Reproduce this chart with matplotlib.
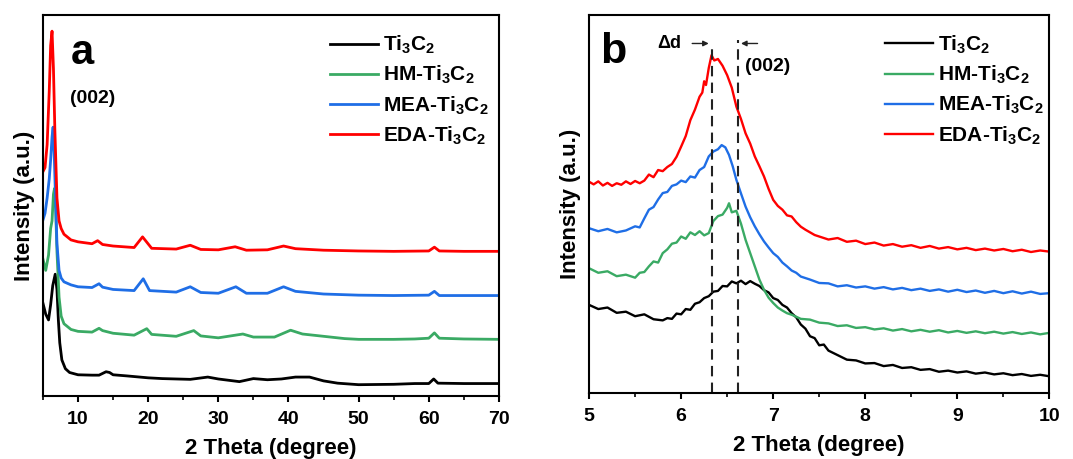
import matplotlib.pyplot as plt
from matplotlib.ticker import MultipleLocator

# ---- panel a: wide scan, 5-70 deg (intensity as fraction of axis height)
a_black_x = [5, 5.4, 5.8, 6.1, 6.4, 6.75, 7.0, 7.2, 7.4, 7.7, 8.2, 8.8, 10, 12, 13, 14, 14.5, 15, 17,
             20, 22, 26, 28.5, 30, 33, 35, 37, 39, 41, 43, 45, 47, 50, 55, 58, 60, 60.7, 61.3, 65, 70]
a_black_y = [0.244, 0.215, 0.20, 0.24, 0.29, 0.32, 0.28, 0.20, 0.14, 0.095, 0.072, 0.062, 0.056,
             0.055, 0.055, 0.064, 0.062, 0.056, 0.053, 0.048, 0.046, 0.044, 0.05, 0.045, 0.038, 0.046,
             0.043, 0.045, 0.05, 0.05, 0.04, 0.034, 0.03, 0.031, 0.033, 0.033, 0.045, 0.034, 0.033, 0.033]

a_green_x = [5, 5.4, 5.8, 6.1, 6.3, 6.5, 6.65, 6.8, 7.0, 7.3, 7.6, 8, 9, 10, 12, 13, 13.5, 15, 18,
             19.8, 20.5, 24, 26.5, 27.5, 30, 33.5, 35, 38, 40.3, 42, 45, 48, 50, 55, 58, 60, 60.8, 61.5, 65, 70]
a_green_y = [0.36, 0.33, 0.37, 0.44, 0.46, 0.53, 0.545, 0.50, 0.38, 0.26, 0.21, 0.19, 0.175, 0.17,
             0.168, 0.178, 0.172, 0.165, 0.16, 0.177, 0.162, 0.157, 0.172, 0.158, 0.153, 0.163, 0.155,
             0.155, 0.173, 0.163, 0.157, 0.151, 0.149, 0.149, 0.15, 0.152, 0.166, 0.152, 0.15, 0.149]

a_blue_x = [5, 5.3, 5.6, 5.9, 6.1, 6.3, 6.45, 6.6, 6.8, 7.0, 7.3, 7.6, 8, 9, 10, 12, 13, 13.5, 15, 18,
            19.3, 20.2, 24, 26, 27.5, 30, 32.5, 34, 37, 39.3, 41, 45, 50, 55, 60, 60.8, 61.5, 65, 70]
a_blue_y = [0.462, 0.48, 0.52, 0.57, 0.62, 0.68, 0.706, 0.64, 0.52, 0.40, 0.33, 0.31, 0.30, 0.292,
            0.287, 0.285, 0.295, 0.286, 0.28, 0.277, 0.308, 0.277, 0.273, 0.287, 0.272, 0.27, 0.287,
            0.27, 0.27, 0.287, 0.275, 0.268, 0.265, 0.264, 0.265, 0.275, 0.264, 0.264, 0.264]

a_red_x = [5, 5.3, 5.6, 5.9, 6.1, 6.3, 6.5, 6.7, 7.0, 7.3, 7.6, 8, 9, 10, 12, 12.8, 13.5, 15, 18,
           19.2, 20.5, 24, 26, 27.5, 30, 32.4, 34, 37, 39.3, 41, 45, 50, 55, 60, 60.8, 61.5, 65, 70]
a_red_y = [0.589, 0.60, 0.66, 0.80, 0.92, 0.958, 0.86, 0.70, 0.52, 0.46, 0.44, 0.425, 0.41, 0.405,
           0.40, 0.408, 0.398, 0.394, 0.39, 0.418, 0.388, 0.386, 0.396, 0.385, 0.384, 0.392, 0.383,
           0.384, 0.394, 0.387, 0.383, 0.381, 0.38, 0.381, 0.391, 0.381, 0.38, 0.38]

# ---- panel b: zoom on the (002) peak, 5-10 deg
b_black_x = [5.0, 5.1, 5.2, 5.3, 5.4, 5.5, 5.6, 5.7, 5.8, 5.85, 5.9, 5.95, 6.0, 6.05, 6.1, 6.15, 6.2,
             6.25, 6.3, 6.35, 6.4, 6.45, 6.5, 6.55, 6.6, 6.65, 6.7, 6.75, 6.8, 6.85, 6.9, 6.95, 7.0,
             7.05, 7.1, 7.15, 7.2, 7.25, 7.3, 7.35, 7.4, 7.45, 7.5, 7.55, 7.6, 7.7, 7.8, 7.9, 8.0,
             8.1, 8.2, 8.3, 8.4, 8.5, 8.6, 8.7, 8.8, 8.9, 9.0, 9.1, 9.2, 9.3, 9.4, 9.5, 9.6, 9.7,
             9.8, 9.9, 10.0]
b_black_y = [0.233, 0.222, 0.226, 0.212, 0.215, 0.203, 0.208, 0.195, 0.192, 0.198, 0.196, 0.210,
             0.208, 0.222, 0.220, 0.236, 0.240, 0.251, 0.256, 0.268, 0.270, 0.283, 0.282, 0.295,
             0.290, 0.297, 0.288, 0.296, 0.289, 0.283, 0.272, 0.266, 0.251, 0.246, 0.233, 0.226,
             0.211, 0.200, 0.181, 0.170, 0.150, 0.145, 0.126, 0.128, 0.112, 0.100, 0.088, 0.086,
             0.078, 0.079, 0.071, 0.074, 0.066, 0.068, 0.061, 0.063, 0.056, 0.059, 0.054, 0.057,
             0.051, 0.054, 0.049, 0.052, 0.047, 0.050, 0.045, 0.048, 0.044]

b_green_x = [5.0, 5.1, 5.2, 5.3, 5.4, 5.5, 5.55, 5.6, 5.65, 5.7, 5.75, 5.8, 5.85, 5.9, 5.95, 6.0,
             6.05, 6.1, 6.15, 6.2, 6.25, 6.3, 6.35, 6.4, 6.45, 6.5, 6.52, 6.55, 6.6, 6.65, 6.7, 6.75,
             6.8, 6.85, 6.9, 6.95, 7.0, 7.05, 7.1, 7.15, 7.2, 7.3, 7.4, 7.5, 7.6, 7.7, 7.8, 7.9,
             8.0, 8.1, 8.2, 8.3, 8.4, 8.5, 8.6, 8.7, 8.8, 8.9, 9.0, 9.1, 9.2, 9.3, 9.4, 9.5, 9.6,
             9.7, 9.8, 9.9, 10.0]
b_green_y = [0.330, 0.318, 0.322, 0.309, 0.313, 0.305, 0.318, 0.320, 0.335, 0.348, 0.345, 0.370,
             0.380, 0.395, 0.398, 0.414, 0.408, 0.425, 0.418, 0.428, 0.417, 0.423, 0.455, 0.468,
             0.472, 0.490, 0.502, 0.478, 0.482, 0.448, 0.405, 0.370, 0.335, 0.300, 0.273, 0.252,
             0.238, 0.226, 0.218, 0.211, 0.207, 0.196, 0.194, 0.186, 0.184, 0.177, 0.179, 0.172,
             0.174, 0.168, 0.171, 0.165, 0.169, 0.163, 0.167, 0.162, 0.166, 0.160, 0.164, 0.159,
             0.163, 0.158, 0.162, 0.157, 0.161, 0.156, 0.160, 0.155, 0.159]

b_blue_x = [5.0, 5.1, 5.2, 5.3, 5.4, 5.5, 5.55, 5.6, 5.65, 5.7, 5.75, 5.8, 5.85, 5.9, 5.95, 6.0,
            6.05, 6.1, 6.15, 6.2, 6.25, 6.3, 6.35, 6.4, 6.44, 6.48, 6.52, 6.56, 6.6, 6.65, 6.7,
            6.75, 6.8, 6.85, 6.9, 6.95, 7.0, 7.05, 7.1, 7.15, 7.2, 7.25, 7.3, 7.4, 7.5, 7.6, 7.7,
            7.8, 7.9, 8.0, 8.1, 8.2, 8.3, 8.4, 8.5, 8.6, 8.7, 8.8, 8.9, 9.0, 9.1, 9.2, 9.3, 9.4,
            9.5, 9.6, 9.7, 9.8, 9.9, 10.0]
b_blue_y = [0.436, 0.428, 0.434, 0.425, 0.430, 0.441, 0.438, 0.462, 0.485, 0.492, 0.512, 0.529,
            0.532, 0.548, 0.552, 0.562, 0.558, 0.573, 0.570, 0.590, 0.598, 0.626, 0.639, 0.645,
            0.656, 0.650, 0.630, 0.600, 0.564, 0.528, 0.493, 0.465, 0.441, 0.420, 0.401, 0.385,
            0.370, 0.360, 0.345, 0.335, 0.324, 0.318, 0.308, 0.300, 0.291, 0.290, 0.282, 0.285,
            0.279, 0.282, 0.276, 0.280, 0.274, 0.278, 0.272, 0.276, 0.270, 0.274, 0.268, 0.273,
            0.267, 0.271, 0.265, 0.270, 0.264, 0.269, 0.263, 0.268, 0.262, 0.264]

b_red_x = [5.0, 5.05, 5.1, 5.15, 5.2, 5.25, 5.3, 5.35, 5.4, 5.45, 5.5, 5.55, 5.6, 5.65, 5.7, 5.75,
           5.8, 5.85, 5.9, 5.95, 6.0, 6.05, 6.1, 6.15, 6.2, 6.23, 6.25, 6.27, 6.3, 6.33, 6.36, 6.4,
           6.45, 6.5, 6.55, 6.6, 6.65, 6.7, 6.75, 6.8, 6.85, 6.9, 6.95, 7.0, 7.05, 7.1, 7.15, 7.2,
           7.25, 7.3, 7.35, 7.4, 7.45, 7.5, 7.6, 7.7, 7.8, 7.9, 8.0, 8.1, 8.2, 8.3, 8.4, 8.5, 8.6,
           8.7, 8.8, 8.9, 9.0, 9.1, 9.2, 9.3, 9.4, 9.5, 9.6, 9.7, 9.8, 9.9, 10.0]
b_red_y = [0.559, 0.552, 0.560, 0.549, 0.556, 0.548, 0.555, 0.551, 0.560, 0.553, 0.561, 0.555,
           0.562, 0.578, 0.571, 0.590, 0.587, 0.598, 0.606, 0.625, 0.652, 0.680, 0.722, 0.750,
           0.784, 0.795, 0.825, 0.815, 0.860, 0.894, 0.880, 0.884, 0.866, 0.841, 0.808, 0.758,
           0.725, 0.687, 0.660, 0.626, 0.600, 0.573, 0.540, 0.511, 0.495, 0.485, 0.470, 0.467,
           0.452, 0.440, 0.432, 0.425, 0.418, 0.414, 0.406, 0.410, 0.400, 0.403, 0.394, 0.398,
           0.390, 0.394, 0.387, 0.391, 0.384, 0.389, 0.382, 0.386, 0.380, 0.384, 0.378, 0.382,
           0.377, 0.381, 0.375, 0.379, 0.373, 0.377, 0.374]

labels = ['Ti$_3$C$_2$', 'HM-Ti$_3$C$_2$', 'MEA-Ti$_3$C$_2$', 'EDA-Ti$_3$C$_2$']
colors = ['black', '#3aaa64', '#1f6ee6', '#ff0000']

d_lines = [6.33, 6.62]   # (002) positions marked in panel b

plt.rcParams['font.family'] = 'Liberation Sans'
plt.rcParams['font.weight'] = 'bold'
plt.rcParams['mathtext.fontset'] = 'custom'
plt.rcParams['mathtext.rm'] = 'Liberation Sans:bold'
plt.rcParams['mathtext.it'] = 'Liberation Sans:bold'
plt.rcParams['mathtext.bf'] = 'Liberation Sans:bold'


def style_axes(ax, xlim, major, minor, leg_x):
    ax.set_xlim(*xlim)
    ax.set_ylim(0, 1)
    ax.set_yticks([])
    ax.xaxis.set_major_locator(MultipleLocator(major))
    ax.xaxis.set_minor_locator(MultipleLocator(minor))
    ax.tick_params(axis='x', which='major', direction='out', length=4, width=1.5,
                   labelsize=14, pad=7)
    ax.tick_params(axis='x', which='minor', direction='out', length=3, width=1.2)
    for sp in ax.spines.values():
        sp.set_linewidth(1.5)
    ax.set_xlabel('2 Theta (degree)', fontsize=16, fontweight='bold', labelpad=7)
    ax.set_ylabel('Intensity (a.u.)', fontsize=16, fontweight='bold', labelpad=6)
    ax.legend(loc='upper left', bbox_to_anchor=(leg_x, 0.951), frameon=False,
              fontsize=15, handlelength=2.3, handletextpad=0.25, labelspacing=0.38,
              borderpad=0, borderaxespad=0)


fig = plt.figure(figsize=(10.73, 4.59), dpi=100)
ax1 = fig.add_axes([0.040, 0.137, 0.425, 0.830])
ax2 = fig.add_axes([0.549, 0.144, 0.429, 0.823])

series_a = [(a_black_x, a_black_y), (a_green_x, a_green_y), (a_blue_x, a_blue_y), (a_red_x, a_red_y)]
for (xs, ys), c, lab in zip(series_a, colors, labels):
    ax1.plot(xs, ys, color=c, lw=2.0, label=lab)
style_axes(ax1, (5, 70), 10, 5, 0.629)
ax1.text(0.06, 0.873, 'a', transform=ax1.transAxes, fontsize=30, fontweight='bold')
ax1.text(0.06, 0.77, '(002)', transform=ax1.transAxes, fontsize=14, fontweight='bold')

series_b = [(b_black_x, b_black_y), (b_green_x, b_green_y), (b_blue_x, b_blue_y), (b_red_x, b_red_y)]
for (xs, ys), c, lab in zip(series_b, colors, labels):
    ax2.plot(xs, ys, color=c, lw=1.7, label=lab)
style_axes(ax2, (5, 10), 1, 0.5, 0.643)
ax2.text(0.024, 0.874, 'b', transform=ax2.transAxes, fontsize=31, fontweight='bold')

for xd, top in zip(d_lines, [0.925, 0.934]):
    ax2.plot([xd, xd], [0, top], color='#222222', lw=1.5, ls=(0, (5, 3)))
ax2.annotate('', xy=(d_lines[0], 0.925), xytext=(6.09, 0.925),
             arrowprops=dict(arrowstyle='-|>', color='#222222', lw=1.0, mutation_scale=8))
ax2.annotate('', xy=(d_lines[1], 0.925), xytext=(6.86, 0.925),
             arrowprops=dict(arrowstyle='-|>', color='#222222', lw=1.0, mutation_scale=8))
ax2.text(6.0, 0.925, '\u0394d', ha='right', va='center', fontsize=13, fontweight='bold')
ax2.text(6.69, 0.863, '(002)', ha='left', va='center', fontsize=14, fontweight='bold')

fig.savefig('out.png', dpi=100)
